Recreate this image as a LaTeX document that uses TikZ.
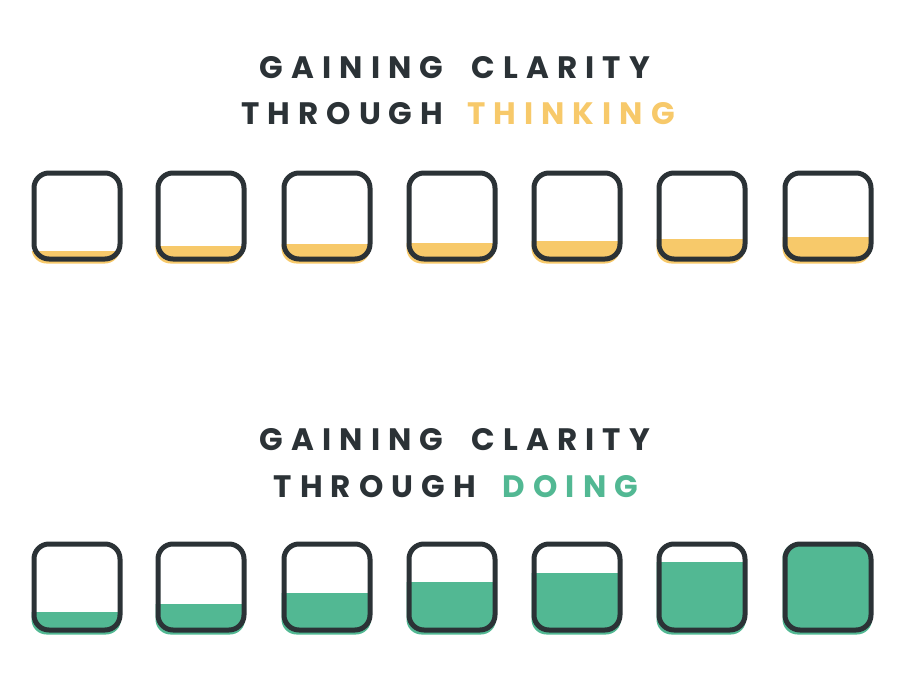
\documentclass[tikz,border=0pt]{standalone}
\usepackage{fontspec}
\setmainfont{Poppins}
\definecolor{inkdark}{HTML}{2B3236}
\definecolor{thinkyellow}{HTML}{F7C96A}
\definecolor{dogreen}{HTML}{52B893}
\tikzset{
  title/.style={font=\addfontfeature{LetterSpace=26}\fontsize{31}{33}\selectfont\bfseries,text=inkdark,inner sep=0pt},
  cell/.style={draw=inkdark,line width=5pt,rounded corners=15pt}
}
\begin{document}
\begin{tikzpicture}[x=1pt,y=-1pt]
  \useasboundingbox (0,0) rectangle (922,678);
  % titles
  \node[title] (thinkA) at (455,68) {GAINING \hspace{0.45em}CLARITY};
  \node[title] (thinkB) at (458,114) {THROUGH \hspace{0.3em}\textcolor{thinkyellow}{THINKING}};
  \node[title] (doA) at (455,440) {GAINING \hspace{0.45em}CLARITY};
  \node[title] (doB) at (456,487) {THROUGH \hspace{0.4em}\textcolor{dogreen}{DOING}};
  % thinking row, filling slowly
  \pgfmathsetmacro{\half}{43}
  \foreach \cx/\lvl in {77/10,201/15,327/17,452/18,577/20,702/22,828/24}{
    \begin{scope}
      \clip (\cx-60,261.5-\lvl) rectangle (\cx+60,280);
      \fill[thinkyellow,rounded corners=15pt] (\cx-\half-2.5,216-\half+2) rectangle (\cx+\half,216+\half+4.5);
    \end{scope}
    \draw[cell] (\cx-\half,216-\half) rectangle (\cx+\half,216+\half);
  }
  % doing row, filling fast
  \foreach \cx/\lvl in {77/20,201/28,327/39,452/50,577/59,702/70,828/100}{
    \begin{scope}
      \clip (\cx-60,632.5-\lvl) rectangle (\cx+60,650);
      \fill[dogreen,rounded corners=15pt] (\cx-\half-2.5,587-\half-1) rectangle (\cx+\half+1,587+\half+4.5);
    \end{scope}
    \draw[cell] (\cx-\half,587-\half) rectangle (\cx+\half,587+\half);
  }
\end{tikzpicture}
\end{document}
